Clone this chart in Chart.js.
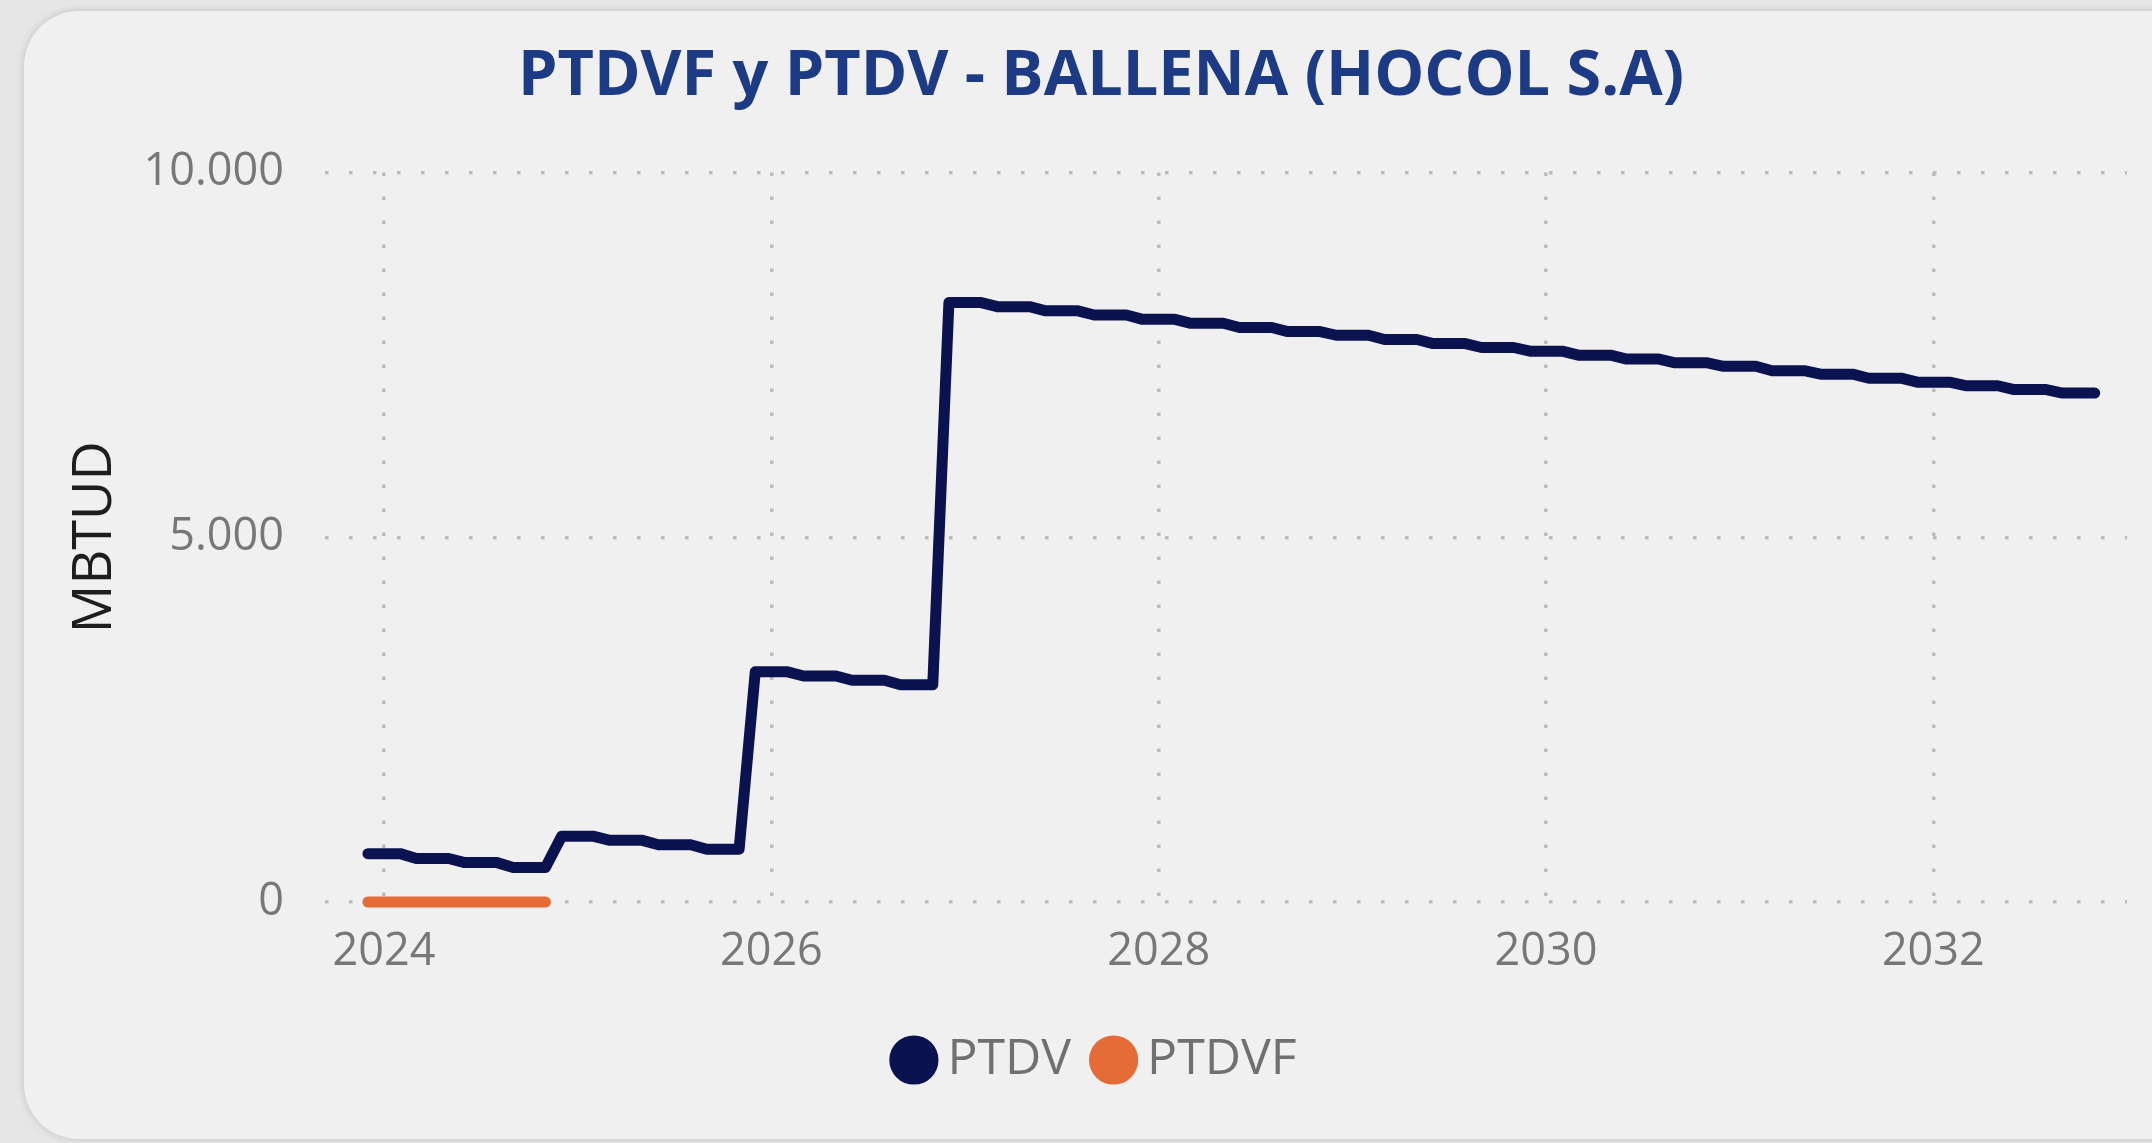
<!DOCTYPE html>
<html>
<head>
<meta charset="utf-8">
<title>PTDVF y PTDV - BALLENA (HOCOL S.A)</title>
<script src="https://cdn.jsdelivr.net/npm/chart.js@4.4.1/dist/chart.umd.min.js"></script>
<style>
  html, body { margin: 0; padding: 0; width: 2152px; height: 1143px; overflow: hidden; background: #e6e6e6; }
  .card {
    position: absolute; left: 24px; top: 11px; width: 2200px; height: 1128px;
    background: #f0f0f0; border-radius: 55px; box-shadow: 0 0 9px rgba(0, 0, 0, 0.16);
  }
  #chart { position: absolute; left: 0; top: 0; }
</style>
</head>
<body>
<div class="card"></div>
<canvas id="chart" width="2152" height="1143"></canvas>
<script>
// monthly series, first month shown on the chart
const firstMonth = { year: 2023, month: 12 };
const monthCount = 108;

// PTDV (MBTUD), one value per month, steps every quarter
const ptdv = [
  663, 663, 663, 597, 597, 597, 540, 540, 540, 474, 474, 474,
  900, 900, 900, 845, 845, 845, 785, 785, 785, 724, 724, 724,
  3155, 3155, 3155, 3098, 3098, 3098, 3040, 3040, 3040, 2978, 2978, 2978,
  8218, 8218, 8218, 8162, 8162, 8162, 8105, 8105, 8105, 8048, 8048, 8048,
  7988, 7988, 7988, 7934, 7934, 7934, 7877, 7877, 7877, 7820, 7820, 7820,
  7770, 7770, 7770, 7712, 7712, 7712, 7656, 7656, 7656, 7602, 7602, 7602,
  7552, 7552, 7552, 7497, 7497, 7497, 7444, 7444, 7444, 7392, 7392, 7392,
  7345, 7345, 7345, 7284, 7284, 7284, 7236, 7236, 7236, 7181, 7181, 7181,
  7127, 7127, 7127, 7078, 7078, 7078, 7025, 7025, 7025, 6978, 6978, 6978
];

// PTDVF (MBTUD), only the first twelve months
const ptdvf = [0, 0, 0, 0, 0, 0, 0, 0, 0, 0, 0, 0];

const xTicks = [2024, 2026, 2028, 2030, 2032];
const yTicks = [0, 5000, 10000];

// month labels "YYYY-MM" and their position in years
const months = [];
for (let i = 0; i < monthCount; i++) {
  const m = firstMonth.month - 1 + i;
  const y = firstMonth.year + Math.floor(m / 12);
  months.push(y + "-" + String((m % 12) + 1).padStart(2, "0"));
}
const monthPos = (s) => {
  const [y, m] = s.split("-").map(Number);
  return y + (m - 1) / 12;
};

const toPoints = (vals) => vals.map((v, i) => ({ x: monthPos(months[i]), y: v }));

const fmt = (v) => String(v).replace(/\B(?=(\d{3})+(?!\d))/g, ".");

const FONT = "'Open Sans', 'Noto Sans', sans-serif";
const gridColor = "#bcbcbc";

new Chart(document.getElementById("chart"), {
  type: "line",
  data: {
    datasets: [
      {
        label: "PTDV",
        data: toPoints(ptdv),
        borderColor: "#0a1250",
        backgroundColor: "#0a1250",
        borderWidth: 11,
        borderCapStyle: "round",
        borderJoinStyle: "round",
        pointRadius: 0,
        tension: 0,
        clip: false,
      },
      {
        label: "PTDVF",
        data: toPoints(ptdvf),
        borderColor: "#e66c37",
        backgroundColor: "#e66c37",
        borderWidth: 11,
        borderCapStyle: "round",
        borderJoinStyle: "round",
        pointRadius: 0,
        tension: 0,
        clip: false,
      },
    ],
  },
  options: {
    responsive: false,
    animation: false,
    layout: { padding: { left: 75, right: 25, top: 11, bottom: 48 } },
    plugins: {
      tooltip: { enabled: false },
      title: {
        display: true,
        text: "PTDVF y PTDV - BALLENA (HOCOL S.A)",
        color: "#1d3a85",
        font: { family: FONT, size: 63, weight: "bold", lineHeight: 1.2 },
        padding: { top: 28, bottom: 58 },
      },
      legend: {
        position: "bottom",
        labels: {
          usePointStyle: true,
          pointStyle: "circle",
          boxHeight: 27,
          boxWidth: 17,
          padding: 34,
          color: "#707070",
          font: { family: FONT, size: 50 },
        },
      },
    },
    scales: {
      x: {
        type: "linear",
        min: 2023.695,
        max: 2033.0,
        afterBuildTicks: (s) => { s.ticks = xTicks.map((v) => ({ value: v })); },
        afterFit: (s) => { s.height = 99; },
        ticks: {
          color: "#777777",
          font: { family: FONT, size: 45 },
          padding: 23,
          maxRotation: 0,
          callback: (v) => String(v),
        },
        grid: { color: gridColor, lineWidth: 3.5, drawTicks: false },
        border: { display: false, dash: [3.5, 20.5] },
      },
      y: {
        min: 0,
        max: 10000,
        afterBuildTicks: (s) => { s.ticks = yTicks.map((v) => ({ value: v })); },
        afterFit: (s) => { s.width = 325 - 75; },
        title: {
          display: true,
          text: "MBTUD",
          color: "#1e1e1e",
          font: { family: FONT, size: 54, weight: "500", lineHeight: 1.2 },
          padding: { top: -12, bottom: 0 },
        },
        ticks: {
          color: "#777777",
          font: { family: FONT, size: 45 },
          padding: 41,
          callback: (v) => fmt(v),
        },
        grid: { color: gridColor, lineWidth: 3.5, drawTicks: false },
        border: { display: false, dash: [3.5, 20.5] },
      },
    },
  },
});
</script>
</body>
</html>
